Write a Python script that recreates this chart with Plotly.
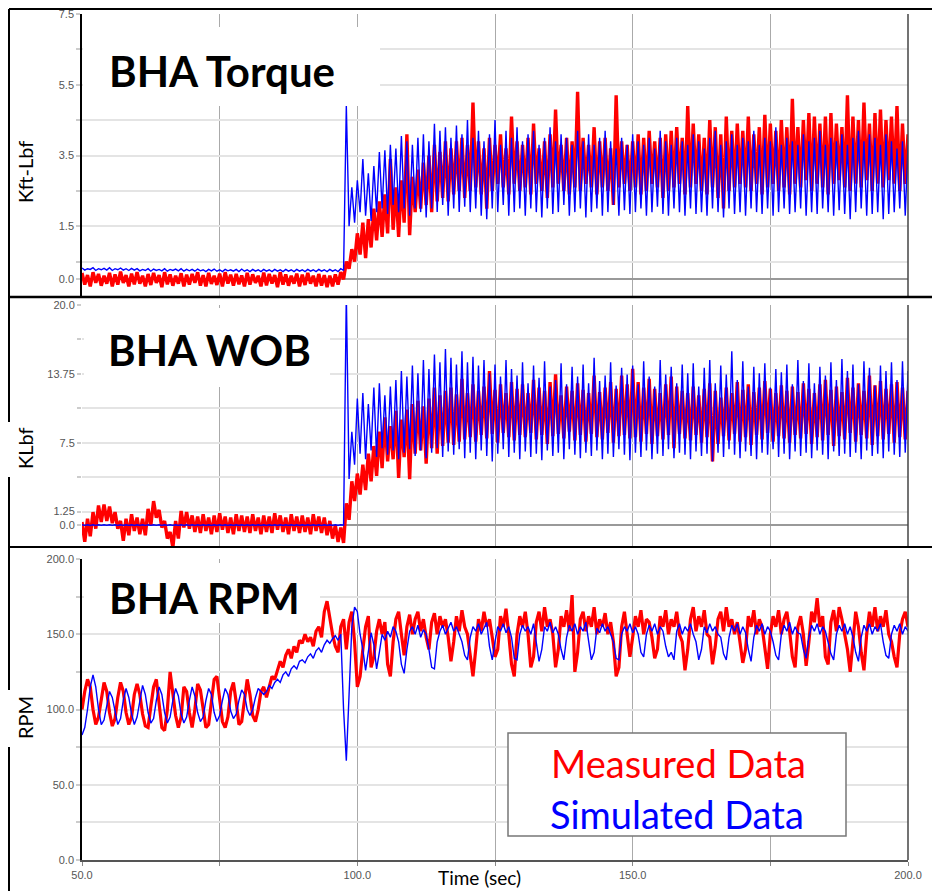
import plotly.graph_objects as go

# The page body has an 8 px margin, so the figure is sized to the visible window area
OFF = 8
WF, HF = 940 - OFF, 891 - OFF

# ---------------- data ----------------
# Torque / WOB series: peaks at t = 50, 51, ..., 200 s and troughs at t = 50.5, ..., 199.5 s
TQ_MEAS_HI = [
    0.18, 0.12, 0.2, 0.15, 0.1, 0.18, 0.14, 0.22, 0.12, 0.16,
    0.2, 0.1, 0.15, 0.18, 0.12, 0.2, 0.14, 0.1, 0.17, 0.13,
    0.15, 0.2, 0.12, 0.18, 0.1, 0.16, 0.2, 0.13, 0.15, 0.11,
    0.18, 0.14, 0.1, 0.19, 0.15, 0.12, 0.2, 0.14, 0.1, 0.16,
    0.13, 0.18, 0.1, 0.15, 0.12, 0.1, 0.14, 0.2, 0.5, 0.85,
    1.3, 1.6, 1.7, 2.0, 2.2, 2.4, 3.4, 2.6, 2.8, 4.1,
    2.9, 3.1, 3.3, 3.5, 3.8, 3.6, 3.9, 3.7, 3.9, 4.0,
    3.8, 5.0, 3.9, 3.7, 4.0, 3.8, 4.1, 3.7, 4.6, 3.9,
    3.8, 4.0, 4.4, 3.7, 3.9, 4.1, 4.8, 3.8, 4.0, 3.9,
    5.3, 4.0, 3.8, 4.3, 3.9, 4.0, 3.7, 5.2, 3.9, 3.8,
    3.9, 4.1, 4.0, 4.2, 3.9, 4.0, 4.1, 4.2, 4.3, 4.0,
    4.9, 4.4, 4.1, 4.0, 4.5, 4.3, 4.1, 4.6, 4.2, 4.4,
    4.2, 4.6, 4.1, 4.3, 4.65, 4.4, 4.2, 4.5, 4.3, 5.1,
    4.3, 4.5, 4.7, 4.6, 4.4, 4.6, 4.7, 4.4, 4.3, 5.2,
    4.6, 4.5, 5.0, 4.4, 4.7, 4.8, 4.5, 4.6, 4.9, 4.4,
    4.1]
TQ_MEAS_LO = [
    -0.15, -0.2, -0.1, -0.18, -0.12, -0.2, -0.15, -0.1, -0.2, -0.14,
    -0.12, -0.2, -0.16, -0.1, -0.22, -0.14, -0.18, -0.12, -0.2, -0.15,
    -0.1, -0.18, -0.2, -0.13, -0.16, -0.2, -0.12, -0.18, -0.14, -0.2,
    -0.15, -0.1, -0.2, -0.17, -0.12, -0.22, -0.15, -0.18, -0.12, -0.2,
    -0.16, -0.12, -0.2, -0.18, -0.22, -0.2, -0.15, 0.0, 0.3, 0.5,
    0.7, 0.6, 0.9, 1.1, 1.2, 1.3, 1.4, 1.2, 1.6, 1.25,
    1.9, 2.0, 2.1, 1.9, 2.2, 2.3, 2.2, 2.4, 2.5, 2.3,
    2.5, 2.6, 2.4, 2.0, 2.5, 2.7, 2.6, 2.4, 2.7, 2.5,
    2.6, 2.4, 2.7, 2.5, 2.3, 2.6, 2.7, 2.5, 2.4, 2.6,
    2.5, 2.7, 2.6, 2.4, 2.6, 2.5, 2.1, 2.6, 2.7, 2.5,
    2.6, 2.4, 2.5, 2.7, 2.6, 2.3, 2.5, 2.6, 2.7, 2.4,
    2.6, 2.7, 2.5, 2.4, 2.6, 2.3, 2.0, 2.5, 2.6, 2.7,
    2.6, 2.5, 2.7, 2.4, 2.6, 2.7, 2.5, 2.6, 2.4, 2.7,
    2.6, 2.8, 2.5, 2.7, 2.6, 2.4, 2.7, 2.8, 2.6, 2.5,
    2.7, 2.6, 2.8, 2.5, 2.7, 2.6, 2.8, 2.7, 2.5, 2.7]
TQ_SIM_HI = [
    0.32, 0.3, 0.33, 0.3, 0.31, 0.33, 0.3, 0.32, 0.3, 0.31,
    0.3, 0.28, 0.3, 0.29, 0.28, 0.3, 0.28, 0.29, 0.3, 0.28,
    0.28, 0.29, 0.27, 0.28, 0.29, 0.27, 0.28, 0.27, 0.28, 0.29,
    0.27, 0.28, 0.27, 0.28, 0.27, 0.28, 0.27, 0.28, 0.27, 0.28,
    0.27, 0.28, 0.27, 0.28, 0.27, 0.28, 0.27, 0.3, 4.9, 2.6,
    2.8, 3.4, 3.0, 3.2, 3.6, 3.65, 3.8, 3.7, 4.05, 3.9,
    3.8, 4.0, 4.1, 3.9, 4.4, 4.2, 4.3, 4.0, 4.35, 4.1,
    4.5, 4.0, 4.2, 3.9, 4.1, 4.5, 3.8, 4.2, 4.0, 4.3,
    3.9, 4.1, 4.2, 3.8, 4.0, 4.3, 3.9, 4.1, 4.0, 3.8,
    4.2, 3.9, 4.1, 3.8, 4.0, 4.2, 3.9, 3.7, 4.0, 3.8,
    4.1, 3.9, 3.8, 4.0, 3.7, 4.2, 3.9, 3.8, 4.0, 3.9,
    3.8, 4.1, 3.9, 3.7, 4.0, 4.2, 3.8, 3.9, 4.1, 3.8,
    4.0, 3.9, 4.2, 3.8, 4.0, 3.9, 4.3, 3.8, 4.0, 3.9,
    3.8, 4.1, 3.9, 4.0, 4.2, 3.8, 4.0, 3.9, 4.1, 3.8,
    4.0, 4.2, 3.9, 4.1, 4.0, 3.8, 4.1, 3.9, 3.7, 3.9,
    3.8]
TQ_SIM_LO = [
    0.26, 0.28, 0.25, 0.27, 0.26, 0.25, 0.27, 0.26, 0.25, 0.26,
    0.24, 0.25, 0.23, 0.25, 0.24, 0.23, 0.25, 0.24, 0.23, 0.24,
    0.23, 0.24, 0.22, 0.24, 0.23, 0.22, 0.24, 0.23, 0.22, 0.23,
    0.22, 0.23, 0.22, 0.23, 0.22, 0.23, 0.22, 0.23, 0.22, 0.23,
    0.22, 0.23, 0.22, 0.23, 0.22, 0.23, 0.22, 0.25, 1.5, 1.6,
    1.9, 1.8, 1.65, 1.9, 2.0, 1.85, 2.1, 1.9, 2.0, 1.8,
    2.0, 1.9, 1.75, 2.0, 1.9, 2.1, 1.8, 2.0, 1.9, 2.05,
    1.9, 2.0, 1.8, 1.7, 2.0, 1.9, 2.1, 1.8, 1.9, 2.0,
    1.8, 2.0, 1.9, 1.75, 2.0, 1.85, 1.9, 2.1, 1.8, 1.9,
    2.0, 1.75, 1.9, 2.0, 1.8, 1.9, 2.1, 1.8, 1.95, 1.85,
    1.9, 2.0, 1.8, 1.9, 2.05, 1.85, 1.8, 2.0, 1.9, 1.8,
    2.0, 1.85, 1.9, 1.8, 2.0, 1.9, 1.75, 2.0, 1.85, 1.9,
    1.8, 2.0, 1.9, 1.85, 2.0, 1.8, 1.9, 2.0, 1.85, 1.9,
    2.0, 1.8, 1.9, 1.85, 2.0, 1.9, 1.8, 1.95, 1.85, 1.7,
    1.9, 2.0, 1.8, 1.85, 1.9, 1.7, 1.85, 1.9, 2.0, 1.8]

WOB_MEAS_HI = [
    0.3, 0.6, 1.2, 1.8, 1.9, 1.7, 1.2, 0.4, 0.6, 1.0,
    0.7, 0.6, 1.5, 2.2, 1.4, 0.4, -0.6, 0.4, 1.3, 1.2,
    0.9, 0.8, 1.0, 0.7, 0.9, 1.1, 0.8, 0.7, 1.0, 0.9,
    0.8, 1.0, 0.7, 0.9, 0.8, 1.1, 0.9, 0.7, 1.0, 0.8,
    0.9, 0.7, 1.0, 0.8, 0.7, 0.4, 0.0, -0.2, 2.0, 4.0,
    4.7, 5.5, 6.5, 7.2, 8.5, 9.8, 9.0, 10.4, 9.6, 10.5,
    11.0, 11.3, 10.8, 11.5, 12.5, 11.8, 12.2, 12.5, 11.9, 13.3,
    12.0, 12.8, 12.2, 12.6, 14.0, 12.3, 12.8, 12.0, 13.0, 12.4,
    12.8, 12.0, 13.2, 12.5, 12.2, 13.0, 13.7, 11.8, 12.6, 12.2,
    12.9, 12.3, 12.0, 13.6, 12.1, 12.5, 13.0, 12.4, 13.6, 12.8,
    14.2, 13.0, 12.5, 13.3, 12.4, 12.0, 12.8, 13.5, 12.6, 12.2,
    12.0, 12.6, 11.8, 12.4, 12.9, 12.2, 11.6, 12.5, 12.0, 13.0,
    12.3, 12.8, 12.1, 12.5, 13.1, 12.4, 12.0, 12.7, 12.2, 12.6,
    12.1, 12.9, 12.4, 12.0, 12.8, 13.2, 12.3, 12.6, 12.1, 13.4,
    12.5, 12.9, 12.2, 13.6, 12.7, 13.1, 12.4, 12.8, 13.0, 12.5,
    12.2]
WOB_MEAS_LO = [
    -1.5, -1.0, -0.3, 0.3, 0.4, 0.2, -0.3, -1.4, -0.9, -0.5,
    -0.8, -0.9, 0.0, 0.7, -0.2, -1.2, -2.0, -1.2, -0.2, -0.3,
    -0.6, -0.7, -0.5, -0.8, -0.6, -0.4, -0.7, -0.8, -0.5, -0.6,
    -0.7, -0.5, -0.8, -0.6, -0.7, -0.4, -0.6, -0.8, -0.5, -0.7,
    -0.6, -0.8, -0.5, -0.7, -0.9, -1.2, -1.5, -1.6, 0.5, 2.2,
    2.8, 3.2, 4.0, 4.5, 5.2, 5.8, 6.0, 4.3, 6.2, 4.2,
    6.5, 6.8, 5.6, 7.0, 6.5, 7.2, 7.5, 7.3, 7.6, 7.8,
    8.0, 7.6, 8.2, 7.9, 8.3, 7.5, 8.4, 8.0, 7.7, 8.2,
    8.0, 8.4, 7.8, 8.2, 7.4, 8.1, 8.3, 7.9, 8.5, 7.7,
    8.2, 7.6, 8.3, 8.0, 7.8, 8.4, 7.5, 8.1, 8.2, 7.9,
    8.0, 7.6, 8.3, 7.4, 8.1, 7.8, 8.2, 7.0, 8.3, 7.9,
    7.7, 8.2, 7.5, 8.0, 5.8, 7.4, 8.1, 7.7, 8.3, 7.6,
    8.0, 7.3, 8.2, 7.8, 8.4, 7.6, 8.1, 7.9, 7.5, 8.2,
    7.9, 8.3, 7.4, 8.0, 7.7, 8.2, 7.2, 8.1, 7.8, 8.4,
    7.6, 8.2, 7.9, 7.3, 8.1, 7.8, 8.3, 7.5, 8.0, 7.8]
WOB_SIM_HI = [
    0.05, 0.05, 0.05, 0.05, 0.05, 0.05, 0.05, 0.05, 0.05, 0.05,
    0.05, 0.05, 0.05, 0.05, 0.05, 0.05, 0.05, 0.05, 0.05, 0.05,
    0.05, 0.05, 0.05, 0.05, 0.05, 0.05, 0.05, 0.05, 0.05, 0.05,
    0.05, 0.05, 0.05, 0.05, 0.05, 0.05, 0.05, 0.05, 0.05, 0.05,
    0.05, 0.05, 0.05, 0.05, 0.05, 0.05, 0.05, 0.05, 21.0, 8.5,
    11.5, 12.0, 11.0, 12.5, 12.9, 11.8, 12.6, 13.2, 14.0, 13.5,
    14.5, 13.8, 15.0, 14.2, 15.5, 14.8, 16.0, 15.2, 14.6, 15.8,
    14.8, 15.3, 14.5, 15.0, 13.8, 14.6, 13.5, 15.0, 14.2, 13.6,
    14.8, 12.9, 14.5, 13.4, 14.9, 12.6, 13.2, 14.7, 12.8, 14.4,
    13.5, 14.6, 12.9, 15.2, 13.1, 13.6, 14.8, 12.7, 14.3, 13.7,
    14.5, 12.8, 14.9, 13.5, 12.6, 15.0, 13.7, 14.4, 12.9, 14.6,
    13.8, 14.7, 12.6, 14.3, 15.0, 12.9, 14.5, 13.7, 15.8, 13.2,
    14.9, 12.6, 14.4, 13.8, 14.7, 12.5, 14.2, 13.9, 14.6, 12.8,
    15.0, 13.1, 14.7, 12.9, 14.4, 13.6, 14.8, 13.2, 15.1, 14.0,
    14.6, 12.8, 14.9, 14.3, 12.7, 14.5, 14.0, 14.8, 13.2, 14.9,
    14.0]
WOB_SIM_LO = [
    0, 0, 0, 0, 0, 0, 0, 0, 0, 0,
    0, 0, 0, 0, 0, 0, 0, 0, 0, 0,
    0, 0, 0, 0, 0, 0, 0, 0, 0, 0,
    0, 0, 0, 0, 0, 0, 0, 0, 0, 0,
    0, 0, 0, 0, 0, 0, 0, 0.02, 4.2, 5.5,
    6.5, 6.0, 6.8, 6.2, 7.0, 6.4, 6.8, 6.0, 6.6, 6.9,
    6.3, 6.8, 6.1, 6.6, 7.0, 6.2, 6.7, 6.4, 6.9, 6.1,
    6.6, 6.0, 6.8, 6.3, 5.8, 6.5, 6.9, 6.2, 6.6, 6.0,
    6.7, 6.2, 6.5, 5.9, 6.8, 6.3, 6.6, 6.0, 6.9, 6.4,
    6.1, 6.6, 6.3, 6.8, 6.0, 6.5, 6.2, 6.9, 6.4, 5.9,
    6.6, 6.2, 6.8, 6.0, 6.5, 6.3, 6.9, 6.1, 6.6, 6.4,
    6.0, 6.7, 6.3, 6.5, 5.8, 6.6, 6.2, 6.9, 6.4, 6.1,
    6.7, 6.3, 6.0, 6.6, 6.4, 6.9, 6.2, 6.5, 6.0, 6.7,
    6.3, 6.6, 6.1, 6.8, 6.4, 6.0, 6.7, 6.3, 6.5, 6.2,
    6.6, 6.0, 6.8, 6.3, 6.5, 6.1, 6.7, 6.4, 6.2, 6.6]

# RPM series: one value every 0.5 s from t = 50 to 200 s
RPM_MEAS = [
    100, 112, 120, 115, 100, 90, 95, 108, 118, 112, 98, 89, 94, 108, 118, 112, 98, 90, 95, 110,
    117, 110, 97, 89, 88, 102, 115, 120, 105, 88, 86, 100, 125, 112, 96, 88, 95, 115, 112, 98,
    88, 100, 117, 113, 100, 88, 90, 105, 120, 122, 108, 92, 88, 95, 112, 118, 105, 90, 92, 105,
    120, 110, 96, 92, 100, 112, 115, 108, 115, 122, 120, 126, 132, 128, 136, 140, 134, 142, 138, 146,
    144, 150, 145, 148, 142, 152, 155, 148, 165, 172, 160, 150, 142, 138, 155, 160, 140, 158, 165, 145,
    115, 122, 140, 155, 162, 128, 135, 152, 160, 150, 158, 130, 122, 145, 160, 165, 150, 136, 155, 163,
    150, 160, 165, 152, 160, 148, 140, 158, 164, 150, 162, 155, 160, 148, 132, 145, 162, 152, 166, 155,
    150, 135, 122, 140, 160, 152, 165, 155, 160, 148, 135, 140, 162, 155, 167, 150, 130, 122, 150, 162,
    155, 165, 150, 128, 135, 158, 165, 152, 168, 155, 160, 150, 128, 140, 162, 155, 166, 152, 176, 125,
    138, 160, 165, 152, 162, 155, 168, 150, 160, 155, 164, 150, 158, 145, 122, 128, 155, 165, 150, 135,
    148, 162, 155, 166, 150, 160, 158, 148, 134, 140, 162, 155, 166, 150, 160, 155, 165, 150, 145, 126,
    140, 160, 168, 152, 162, 155, 166, 150, 148, 130, 142, 160, 165, 152, 168, 155, 160, 150, 158, 145,
    131, 140, 162, 155, 166, 150, 160, 155, 140, 127, 150, 162, 155, 166, 150, 160, 165, 152, 135, 128,
    155, 162, 150, 129, 145, 165, 158, 174, 155, 162, 135, 130, 158, 166, 152, 168, 160, 150, 140, 125,
    145, 165, 155, 138, 126, 150, 165, 155, 168, 152, 162, 155, 166, 150, 145, 135, 128, 150, 160, 165,
    155]
RPM_SIM = [
    83, 88, 100, 115, 123, 115, 100, 90, 93, 104, 112, 108, 98, 90, 94, 106, 114, 108, 97, 90,
    95, 107, 116, 110, 98, 91, 94, 106, 115, 110, 98, 91, 95, 106, 114, 109, 97, 91, 95, 106,
    115, 109, 98, 92, 95, 106, 114, 110, 98, 92, 96, 106, 114, 110, 99, 94, 97, 106, 113, 110,
    100, 96, 100, 108, 114, 112, 110, 112, 116, 114, 118, 120, 118, 123, 125, 122, 127, 129, 127, 132,
    133, 131, 135, 137, 134, 139, 141, 138, 143, 146, 144, 147, 149, 146, 150, 100, 66, 110, 155, 168,
    165, 150, 140, 126, 140, 151, 143, 127, 138, 150, 146, 152, 148, 155, 152, 145, 130, 124, 140, 152,
    155, 150, 156, 148, 153, 150, 140, 128, 127, 145, 152, 156, 150, 154, 158, 152, 155, 150, 145, 136,
    133, 148, 155, 152, 157, 150, 154, 158, 142, 133, 145, 155, 152, 157, 151, 155, 148, 134, 133, 150,
    156, 152, 155, 150, 157, 145, 132, 140, 155, 152, 158, 151, 155, 150, 140, 133, 148, 156, 152, 157,
    150, 155, 152, 158, 145, 133, 138, 154, 151, 157, 152, 155, 150, 145, 134, 133, 150, 155, 152, 157,
    151, 155, 150, 138, 135, 150, 156, 152, 157, 150, 155, 152, 142, 135, 138, 133, 152, 157, 150, 155,
    152, 157, 150, 145, 133, 140, 155, 151, 157, 152, 155, 150, 148, 137, 133, 148, 156, 152, 157, 150,
    155, 151, 140, 132, 148, 156, 152, 157, 150, 155, 152, 145, 136, 133, 150, 156, 152, 158, 150, 155,
    151, 150, 140, 134, 148, 156, 152, 157, 150, 155, 152, 145, 137, 133, 150, 156, 152, 157, 150, 155,
    148, 138, 132, 148, 156, 152, 157, 150, 155, 152, 157, 145, 136, 134, 150, 156, 152, 157, 150, 155,
    152]

T_START, T_END = 50.0, 200.0
X_TICKS = [50, 75, 100, 125, 150, 175, 200]
X_TICKTEXT = ["50.0", "", "100.0", "", "150.0", "", "200.0"]
TQ_TICKS = [0, 0.5, 1.5, 2.5, 3.5, 4.5, 5.5, 6.5, 7.5]
TQ_TICKTEXT = ["0.0", "", "1.5", "", "3.5", "", "5.5", "", "7.5"]
WOB_TICKS = [0, 1.25, 4.375, 7.5, 10.625, 13.75, 16.875, 20.0]
WOB_TICKTEXT = ["0.0", "1.25", "", "7.5", "", "13.75", "", "20.0"]
RPM_TICKS = [0, 25, 50, 75, 100, 125, 150, 175, 200]
RPM_TICKTEXT = ["0.0", "", "50.0", "", "100.0", "", "150.0", "", "200.0"]

RED = "#ff0000"
BLUE = "#0000ff"


def zigzag(hi, lo, t0=T_START):
    xs, ys = [], []
    for i, v in enumerate(hi):
        xs.append(t0 + i)
        ys.append(v)
        if i < len(lo):
            xs.append(t0 + i + 0.5)
            ys.append(lo[i])
    return xs, ys


rpm_t = [T_START + 0.5 * i for i in range(len(RPM_MEAS))]
rpm_t_sim = [T_START + 0.5 * i for i in range(len(RPM_SIM))]

fig = go.Figure()

x, y = zigzag(TQ_MEAS_HI, TQ_MEAS_LO)
fig.add_trace(go.Scatter(x=x, y=y, mode="lines", line=dict(color=RED, width=3.4), xaxis="x", yaxis="y"))
x, y = zigzag(TQ_SIM_HI, TQ_SIM_LO)
fig.add_trace(go.Scatter(x=x, y=y, mode="lines", line=dict(color=BLUE, width=1.4), xaxis="x", yaxis="y"))

x, y = zigzag(WOB_MEAS_HI, WOB_MEAS_LO)
fig.add_trace(go.Scatter(x=x, y=y, mode="lines", line=dict(color=RED, width=3.4), xaxis="x2", yaxis="y2"))
x, y = zigzag(WOB_SIM_HI, WOB_SIM_LO)
fig.add_trace(go.Scatter(x=x, y=y, mode="lines", line=dict(color=BLUE, width=1.4), xaxis="x2", yaxis="y2"))

fig.add_trace(go.Scatter(x=rpm_t, y=RPM_MEAS, mode="lines", line=dict(color=RED, width=3.2), xaxis="x3", yaxis="y3"))
fig.add_trace(go.Scatter(x=rpm_t_sim, y=RPM_SIM, mode="lines", line=dict(color=BLUE, width=1.4), xaxis="x3", yaxis="y3"))


def PX(p):
    """screen pixel x -> paper coordinate"""
    return (p - OFF) / WF


def PY(p):
    """screen pixel y -> paper coordinate"""
    return 1 - (p - OFF) / HF


XD = [PX(82), PX(908)]
tickfont = dict(family="Liberation Sans, Arial", size=11, color="#555555")


def xaxis_cfg(anchor, labels):
    d = dict(domain=XD, range=[T_START, T_END], anchor=anchor, tickvals=X_TICKS,
             showgrid=True, gridcolor="#aaaaaa", gridwidth=1.3, zeroline=False,
             fixedrange=True, automargin=False, ticklabeloverflow="allow")
    if labels:
        d.update(ticktext=X_TICKTEXT, ticks="outside", ticklen=4, tickcolor="#888888",
                 tickfont=tickfont, showline=True, linecolor="#555555", linewidth=1.5)
    else:
        d.update(showticklabels=False, ticks="")
    return d


def yaxis_cfg(anchor, dom, rng, tv, tt, line, zero):
    return dict(domain=dom, range=rng, anchor=anchor, tickvals=tv, ticktext=tt,
                showgrid=True, gridcolor="#e4e4e4", gridwidth=2,
                zeroline=zero, zerolinecolor="#999999", zerolinewidth=1.6,
                ticks="outside", ticklen=4, tickwidth=2, tickcolor="#cccccc",
                tickfont=tickfont, showline=line, linecolor="black", linewidth=1.5,
                fixedrange=True, automargin=False, ticklabeloverflow="allow")


shapes = []


def line(x0, y0, x1, y1, color="black", width=2):
    shapes.append(dict(type="line", xref="paper", yref="paper", x0=PX(x0), y0=PY(y0),
                       x1=PX(x1), y1=PY(y1), line=dict(color=color, width=width), layer="above"))


def rect(x0, y0, x1, y1, fill="white", border=None, bw=0):
    shapes.append(dict(type="rect", xref="paper", yref="paper", x0=PX(x0), y0=PY(y0),
                       x1=PX(x1), y1=PY(y1), fillcolor=fill,
                       line=dict(color=border or fill, width=bw), layer="above"))


# white boxes behind the panel titles
rect(83, 27, 380, 106)
rect(84, 308, 330, 387)
rect(84, 563, 320, 623)
# legend box
rect(508, 733, 846, 836, fill="white", border="#777777", bw=1.5)
# right borders
line(908, 14, 908, 297, "#444444", 1.5)
line(908, 305, 908, 546, "#444444", 1.5)
line(908, 559, 908, 860, "#444444", 1.5)
# outer frame
line(9, 9, 940, 9, "black", 2)
line(9, 297, 940, 297, "black", 2.5)
line(9, 547, 940, 547, "black", 2)
line(9, 9, 9, 422, "black", 2)
line(9, 477, 9, 690, "black", 2)
line(9, 747, 9, 891, "black", 2)

TITLE_FONT = dict(family="Lato", size=42, color="black", weight="bold")
LEG_FONT = dict(family="Lato", size=38)
AX_FONT = dict(family="Lato", size=20, color="black")


def ann(text, x, y, font, angle=0):
    return dict(text=text, xref="paper", yref="paper", x=PX(x), y=PY(y),
                xanchor="center", yanchor="middle", showarrow=False, font=font,
                textangle=angle)


annotations = [
    ann("BHA Torque", 222, 71, TITLE_FONT),
    ann("BHA WOB", 209, 350, TITLE_FONT),
    ann("BHA RPM", 204, 598, TITLE_FONT),
    ann("Measured Data", 678, 763, dict(LEG_FONT, color=RED)),
    ann("Simulated Data", 677, 814, dict(LEG_FONT, color=BLUE)),
    ann("Time (sec)", 479, 877, dict(AX_FONT, size=19)),
    ann("Kft-Lbf", 25, 172, AX_FONT, -90),
    ann("KLbf", 25, 448, AX_FONT, -90),
    ann("RPM", 25, 718, AX_FONT, -90),
]

fig.update_layout(
    width=WF, height=HF, autosize=False,
    margin=dict(l=0, r=0, t=0, b=0, pad=0, autoexpand=False),
    paper_bgcolor="white", plot_bgcolor="white",
    showlegend=False, hovermode=False,
    xaxis=xaxis_cfg("y", False),
    xaxis2=xaxis_cfg("y2", False),
    xaxis3=xaxis_cfg("y3", True),
    yaxis=yaxis_cfg("x", [PY(297), PY(14)], [-0.5, 7.5], TQ_TICKS, TQ_TICKTEXT, True, True),
    yaxis2=yaxis_cfg("x2", [PY(546), PY(305)], [-1.875, 20.0], WOB_TICKS, WOB_TICKTEXT, False, True),
    yaxis3=yaxis_cfg("x3", [PY(860), PY(559)], [0, 200], RPM_TICKS, RPM_TICKTEXT, True, False),
    shapes=shapes,
    annotations=annotations,
)

fig.write_html("out.html")
